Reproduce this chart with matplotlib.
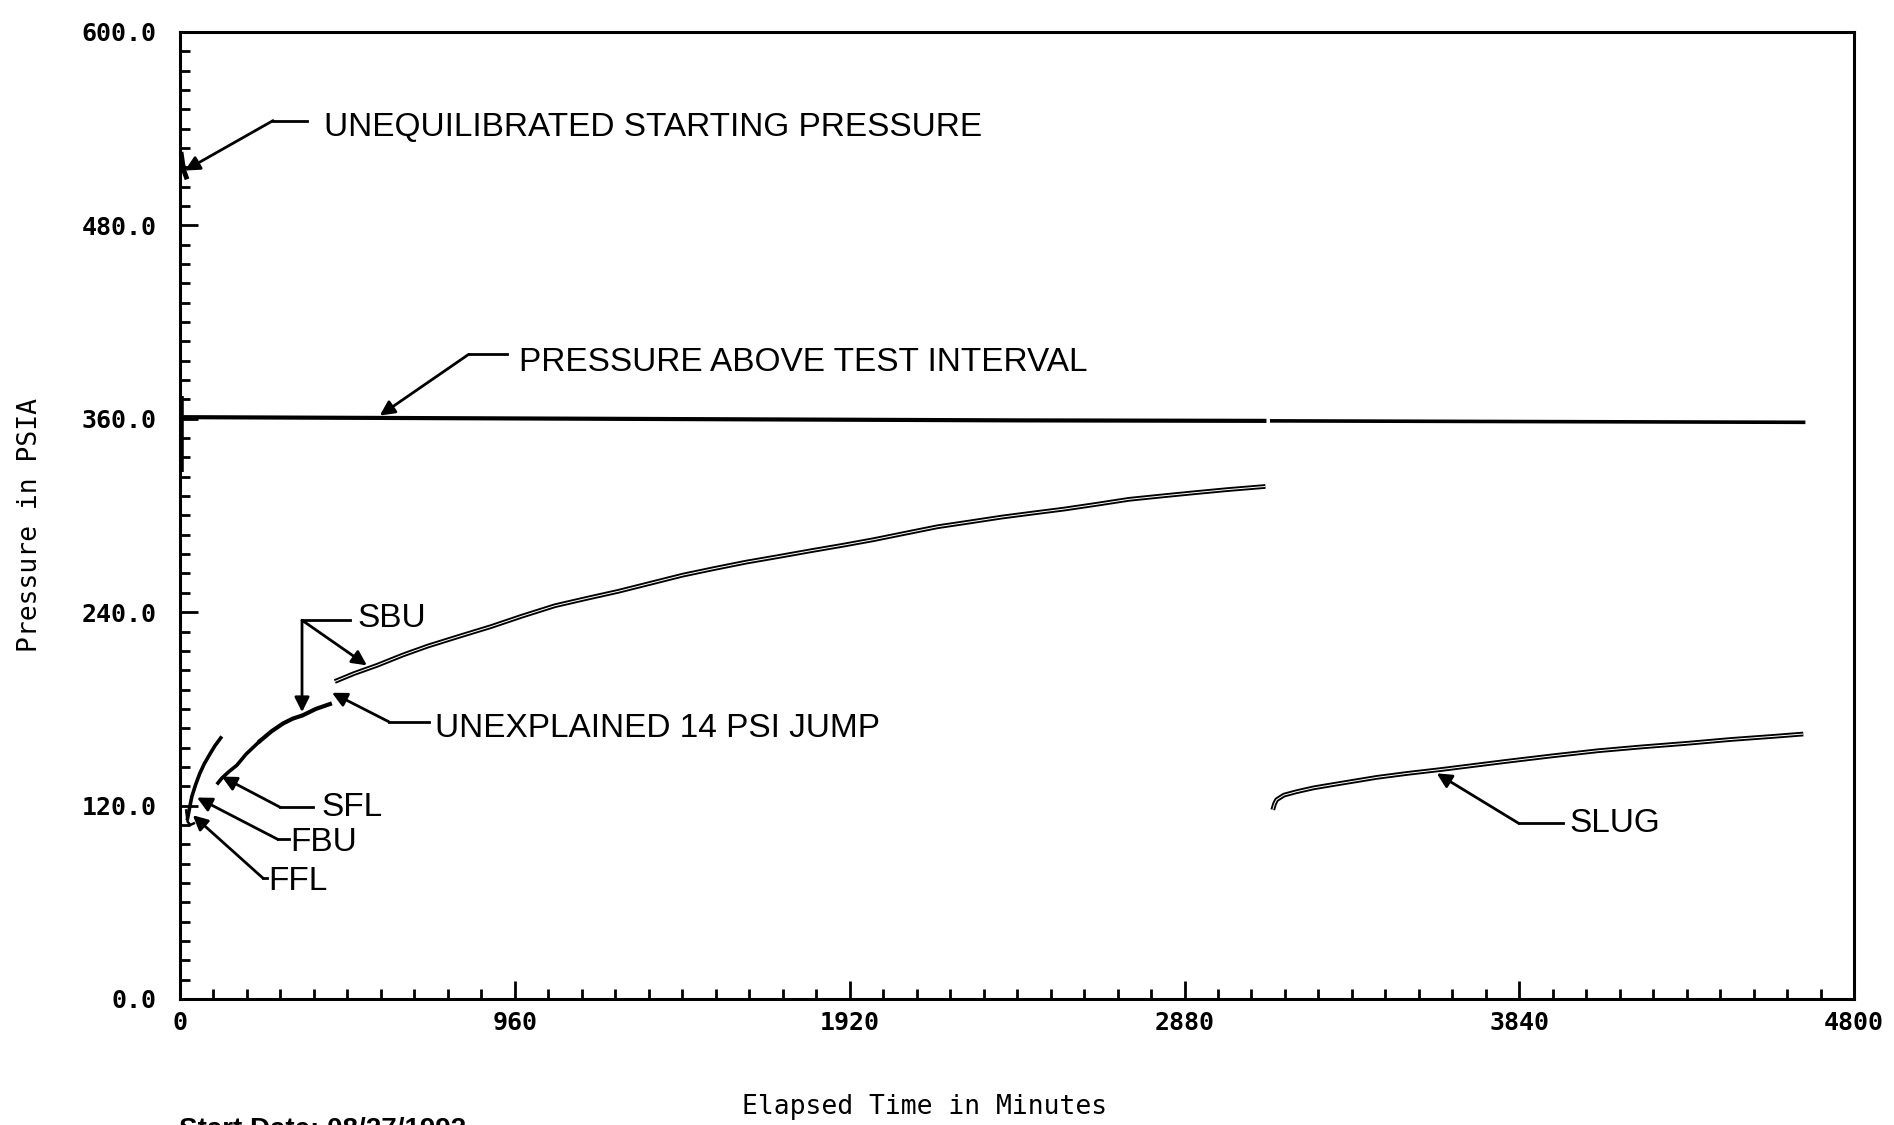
import matplotlib
matplotlib.use("Agg")
import matplotlib.pyplot as plt
from matplotlib.ticker import MultipleLocator, FixedLocator

# pressure above the packer (two pieces, small gap near 3120 min)
above_t1 = [0, 600, 1200, 1800, 2400, 3115]
above_p1 = [361.0, 360.5, 360.0, 359.5, 359.0, 358.7]
above_t2 = [3125, 3800, 4660]
above_p2 = [358.7, 358.3, 357.8]
drop_t = [3, 3]
drop_p = [374, 327]

# unequilibrated start
start_t = [4, 8, 13, 18]
start_p = [524, 518, 513, 510]

# test interval periods
ffl_t = [18, 22, 30, 40]
ffl_p = [117, 110, 108, 109]
fbu_t = [22, 28, 34, 45, 57, 70, 86, 100, 117]
fbu_p = [112, 119, 125.5, 133, 140, 146, 152, 157, 162]
sfl_t = [109, 120, 140, 163, 190, 229]
sfl_p = [134, 137, 141, 145, 152, 160]
sbu1_t = [229, 262, 296, 324, 352, 390, 430]
sbu1_p = [160, 166, 171, 174, 176, 180, 183]
sbu2_t = [444, 500, 565, 640, 711, 800, 891, 980, 1075, 1165, 1258, 1350,
          1442, 1530, 1622, 1715, 1806, 1900, 1989, 2080, 2172, 2265, 2356,
          2445, 2536, 2630, 2720, 2810, 2903, 3000, 3112]
sbu2_p = [197, 202, 207, 213.5, 219, 225, 231, 237.5, 244, 248.5, 253, 258,
          263, 267, 271, 274.5, 278, 281.5, 285, 289, 293, 296, 299,
          301.5, 304, 307, 310, 312, 314, 316, 318]
slug_t = [3133, 3138, 3144, 3165, 3201, 3250, 3305, 3431, 3520, 3620, 3712,
          3812, 3940, 4064, 4190, 4319, 4445, 4571, 4654]
slug_p = [117.4, 121, 123.6, 126.5, 128.6, 131, 133, 137.5, 140, 142.5, 145,
          147.7, 151, 154, 156.4, 158.6, 161, 163, 164.4]

x_ticks = [0, 960, 1920, 2880, 3840, 4800]
x_labels = ["0", "960", "1920", "2880", "3840", "4800"]
y_ticks = [0, 120, 240, 360, 480, 600]
y_labels = ["0.0", "120.0", "240.0", "360.0", "480.0", "600.0"]

fig = plt.figure(figsize=(18.94, 11.25), dpi=100)
ax = fig.add_axes([0.095, 0.112, 0.884, 0.8596])
ax.set_xlim(0, 4800)
ax.set_ylim(0, 600)

# lines
ax.plot(above_t1, above_p1, color="black", lw=3.0, solid_capstyle="butt")
ax.plot(above_t2, above_p2, color="black", lw=2.6, solid_capstyle="butt")
ax.plot(drop_t, drop_p, color="black", lw=4, solid_capstyle="butt")
ax.plot(start_t, start_p, color="black", lw=3.5)
ax.plot(ffl_t, ffl_p, color="black", lw=1.8)
ax.plot(fbu_t, fbu_p, color="black", lw=2.6)
ax.plot(sfl_t, sfl_p, color="black", lw=2.6)
ax.plot(sbu1_t, sbu1_p, color="black", lw=3.0)
for tt, pp in [(sbu2_t, sbu2_p), (slug_t, slug_p)]:
    ax.plot(tt, pp, color="black", lw=3.4, solid_capstyle="butt")
    ax.plot(tt, pp, color="white", lw=0.7, solid_capstyle="butt")

# axes styling
for s in ax.spines.values():
    s.set_linewidth(2.2)
ax.xaxis.set_major_locator(FixedLocator(x_ticks))
ax.yaxis.set_major_locator(FixedLocator(y_ticks))
ax.xaxis.set_minor_locator(MultipleLocator(96))
ax.yaxis.set_minor_locator(MultipleLocator(12))
ax.set_xticklabels(x_labels)
ax.set_yticklabels(y_labels)
ax.tick_params(which="both", direction="in", top=False, right=False, width=2)
ax.tick_params(which="major", length=13)
ax.tick_params(which="minor", length=7)
ax.tick_params(axis="x", which="major", pad=9)
ax.tick_params(axis="y", which="major", pad=17)
for lab in ax.get_xticklabels() + ax.get_yticklabels():
    lab.set_fontfamily("DejaVu Sans Mono")
    lab.set_fontweight("bold")
    lab.set_fontsize(18)

ax.set_xlabel("Elapsed Time in Minutes", family="DejaVu Sans Mono", fontsize=19)
ax.xaxis.set_label_coords(0.445, -0.098)
ax.set_ylabel("Pressure in PSIA", family="DejaVu Sans Mono", fontsize=19)
ax.yaxis.set_label_coords(-0.082, 0.49)

# annotations: (label, text pos, elbow, horiz end, tips)
notes = [
    ("UNEQUILIBRATED STARTING PRESSURE", (413, 541), (267, 545), (364, 545), [(14, 514)]),
    ("PRESSURE ABOVE TEST INTERVAL", (972, 395), (828, 400), (937, 400), [(573, 362)]),
    ("SBU", (510, 236), (350, 235), (487, 235), [(350, 178), (536, 207)]),
    ("UNEXPLAINED 14 PSI JUMP", (731, 168), (599, 172), (714, 172), [(436, 190)]),
    ("SFL", (407, 119), (287, 119), (381, 119), [(120, 138)]),
    ("FBU", (315, 97), (281, 99), (312, 99), [(49, 125)]),
    ("FFL", (252, 72.6), (238, 75), (250, 75), [(37, 114)]),
    ("SLUG", (3984, 109), (3838, 109), (3964, 109), [(3603, 140)]),
]
for label, tpos, elbow, hend, tips in notes:
    ax.plot([elbow[0], hend[0]], [elbow[1], hend[1]], color="black", lw=2)
    for tip in tips:
        ax.annotate("", xy=tip, xytext=elbow,
                    arrowprops=dict(arrowstyle="-|>", color="black", lw=2,
                                    mutation_scale=22, shrinkA=0, shrinkB=0))
    ax.text(tpos[0], tpos[1], label, family="Liberation Sans", fontsize=24,
            ha="left", va="center", color="black")

fig.text(0.0945, 0.0075, "Start Date: 08/27/1992", family="Liberation Sans",
         fontsize=20, fontweight="bold", ha="left", va="top")

fig.savefig("out.png", dpi=100)
